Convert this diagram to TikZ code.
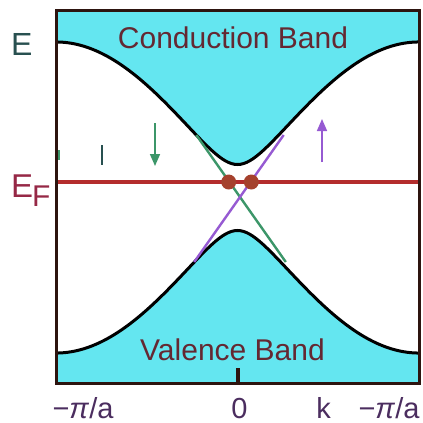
\documentclass[tikz,border=0pt]{standalone}
\usepackage{fontspec}
\setmainfont{Liberation Sans}
\usetikzlibrary{arrows.meta}
\definecolor{bandfill}{RGB}{100,230,240}
\definecolor{framecol}{RGB}{45,20,15}
\definecolor{fermired}{RGB}{180,45,45}
\definecolor{dotred}{RGB}{165,65,45}
\definecolor{spingreen}{RGB}{60,150,105}
\definecolor{spinviolet}{RGB}{150,90,210}
\definecolor{bandtext}{RGB}{100,40,50}
\definecolor{axistext}{RGB}{75,45,95}
\definecolor{etext}{RGB}{40,80,80}
\definecolor{eftext}{RGB}{150,40,70}
\begin{document}
\begin{tikzpicture}[x=1pt,y=-1pt]
    \tikzset{lbl/.style={inner sep=0pt, anchor=base, font=\fontsize{29}{29}\selectfont, text=axistext},
             bandlbl/.style={inner sep=0pt, anchor=base, font=\fontsize{30}{30}\selectfont, text=bandtext},
             band/.style={line width=3pt, draw=black},
             dot/.style={circle, fill=dotred, minimum size=15pt, inner sep=0pt},
             spin/.style={line width=1.6pt, -{Triangle[width=10pt,length=12pt]}}}
    \useasboundingbox (0,0) rectangle (423,423);

    % ---- Bands ----
    \fill[bandfill] plot[domain=56:419, samples=121] (\x, {197.5-10*sqrt(3.3^2+(15.2*sin(90*(\x-237.5)/181.5))^2)})
          -- (419,10) -- (56,10) -- cycle;
    \fill[bandfill] plot[domain=56:419, samples=121] (\x, {197.5+10*sqrt(3.3^2+(15.2*sin(90*(\x-237.5)/181.5))^2)})
          -- (419,383) -- (56,383) -- cycle;
    \draw[band] plot[domain=56:419, samples=121] (\x, {197.5-10*sqrt(3.3^2+(15.2*sin(90*(\x-237.5)/181.5))^2)});
    \draw[band] plot[domain=56:419, samples=121] (\x, {197.5+10*sqrt(3.3^2+(15.2*sin(90*(\x-237.5)/181.5))^2)});

    % ---- Surface state lines ----
    \coordinate (g1) at (196.3,135);
    \coordinate (g2) at (285.8,262);
    \coordinate (v1) at (283.7,135);
    \coordinate (v2) at (194.2,262);
    \draw[spingreen, line width=2.4pt] (g1) -- (g2);
    \draw[spinviolet, line width=2.4pt] (v1) -- (v2);

    % ---- Fermi level ----
    \coordinate (fl) at (56,182);
    \coordinate (fr) at (419,182);
    \draw[fermired, line width=3.5pt] (fl) -- (fr);
    \node[dot] (dl) at (228.7,182) {};
    \node[dot] (dr) at (251.3,182) {};

    % ---- Spin arrows ----
    \coordinate (d1) at (155,123);
    \coordinate (d2) at (155,166);
    \coordinate (u1) at (322,162);
    \coordinate (u2) at (322,119);
    \draw[spin, spingreen] (d1) -- (d2);
    \draw[spin, spinviolet] (u1) -- (u2);
    \coordinate (m1) at (102,145);
    \coordinate (m2) at (102,165);
    \draw[etext, line width=2pt] (m1) -- (m2);
    \coordinate (m3) at (58.5,150);
    \coordinate (m4) at (58.5,160);
    \draw[spingreen, line width=2pt] (m3) -- (m4);

    % ---- Frame and tick ----
    \draw[framecol, line width=3pt] (56,10) rectangle (419,383);
    \coordinate (t1) at (238,383);
    \coordinate (t2) at (238,368);
    \draw[framecol, line width=4pt] (t1) -- (t2);

    % ---- Labels ----
    \node[bandlbl] (cb) at (233,48) {Conduction Band};
    \node[bandlbl] (vb) at (232.5,360) {Valence Band};
    \node[inner sep=0pt, anchor=base west, font=\fontsize{32}{32}\selectfont, text=etext] (e) at (11,55) {E};
    \node[inner sep=0pt, anchor=base west, font=\fontsize{33}{33}\selectfont, text=eftext] (ef) at (11,197)
         {E\kern-1pt\raisebox{-9pt}{\fontsize{30}{30}\selectfont F}};
    \node[lbl] (kl) at (83,418) {−\textit{π}/a};
    \node[lbl] (k0) at (239.5,418) {0};
    \node[lbl] (kk) at (323.5,418) {k};
    \node[lbl] (kr) at (389,418) {−\textit{π}/a};
\end{tikzpicture}
\end{document}
